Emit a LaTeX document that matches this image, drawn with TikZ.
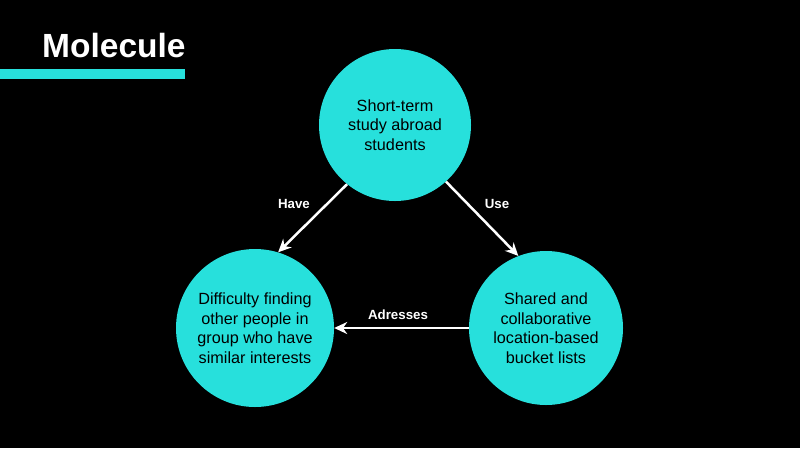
\documentclass[tikz,border=0pt]{standalone}
\usepackage{fontspec}
\setmainfont{Liberation Sans}
\usetikzlibrary{arrows.meta}
\definecolor{tealc}{HTML}{27E0DC}
\tikzset{
  bubble/.style={circle, fill=tealc, draw=none, inner sep=0pt, align=center, text=black,
    font=\fontsize{16.2}{19.5}\selectfont},
  link/.style={draw=white, line width=2.5pt, -{Stealth[length=13pt,width=12pt]}},
  lbl/.style={text=white, font=\fontsize{13.3}{15}\selectfont\bfseries}
}
\begin{document}
\begin{tikzpicture}[x=1pt,y=-1pt]
\fill[black] (0,0) rectangle (800,448);
\useasboundingbox (0,0) rectangle (800,448);
\node[anchor=base west, text=white, font=\fontsize{33.5}{36}\selectfont\bfseries, inner sep=0pt] (title) at (42,57) {Molecule};
\fill[tealc] (0,69) rectangle (185,79);
\node[bubble, minimum size=152pt] (top) at (395,125) {Short-term\\study abroad\\students};
\node[bubble, minimum size=158pt] (left) at (255,328) {Difficulty finding\\other people in\\group who have\\similar interests};
\node[bubble, minimum size=154pt] (right) at (546,328) {Shared and\\collaborative\\location-based\\bucket lists};
\draw[link] (top.231) -- (left.73);
\draw[link] (top.312) -- (right.111);
\draw[link] (right.180) -- (left.0);
\node[lbl] (have) at (294,204) {Have};
\node[lbl] (use) at (497,204) {Use};
\node[lbl] (adr) at (398,315) {Adresses};
\end{tikzpicture}
\end{document}
